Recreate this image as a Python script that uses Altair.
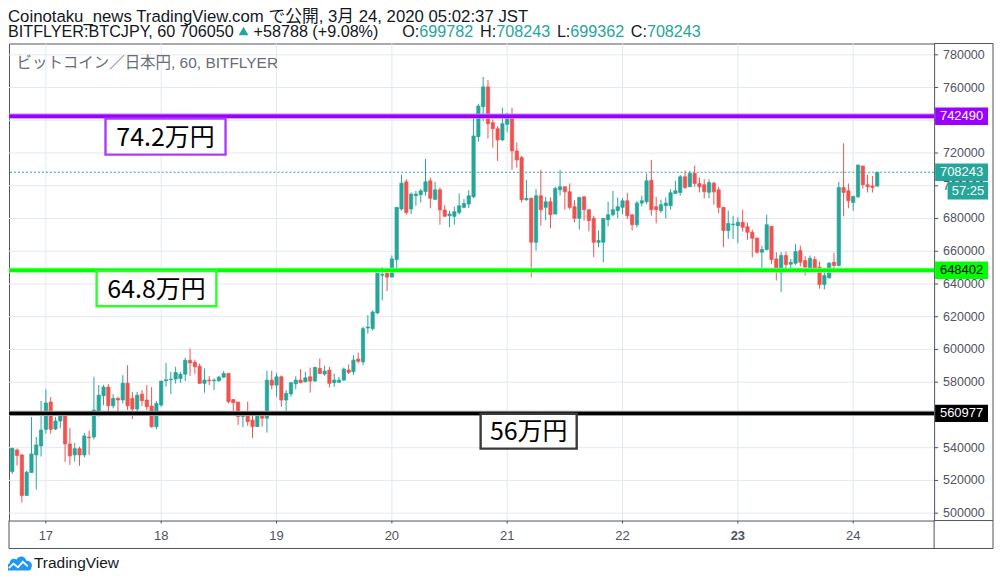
import altair as alt
import pandas as pd

# ---------------- data (hourly candles, hour 0 = 17th 00:00) ----------------
hours = list(range(-7, 174))
opens = [
    525400, 538600, 535600, 510800, 524800, 535600, 541100, 551200, 567900, 551400,
    556300, 559300, 542300, 535600, 539400, 535600, 546500, 546500, 562000, 571700,
    577000, 565600, 570100, 569100, 579400, 570100, 563600, 572700, 569100, 565400,
    552800, 566000, 580900, 581500, 581900, 582300, 584900, 593400, 592200, 589800,
    579300, 581300, 580900, 580900, 583100, 585300, 569500, 567900, 559000, 560600,
    556900, 552900, 560600, 558000, 581300, 578200, 583300, 569100, 572800, 579000,
    581300, 580300, 583300, 580700, 588400, 585000, 587400, 579700, 579900, 581300,
    587400, 586400, 594100, 592400, 613100, 612700, 622300, 645400, 646600, 644200,
    654900, 685800, 702400, 685800, 693900, 694500, 696500, 703000, 691700, 697500,
    685200, 681700, 681300, 683700, 686800, 688800, 693300, 730000, 748300, 760400,
    738500, 734900, 728000, 737500, 742600, 721300, 717200, 691500, 692300, 665500,
    693900, 686800, 690200, 682700, 697500, 699400, 696300, 687200, 680100, 693300,
    685400, 680100, 665500, 665500, 679300, 682300, 684800, 686800, 690800, 682300,
    676200, 689400, 690200, 703400, 687200, 684800, 687800, 687800, 695300, 695900,
    705500, 699400, 707500, 701400, 700600, 696000, 701600, 697500, 686800, 672600,
    676200, 675600, 677700, 675000, 671600, 668100, 659400, 661000, 675200, 655300,
    646800, 657400, 652100, 652700, 660400, 654300, 649600, 654900, 650300, 639700,
    643800, 653300, 651300, 698900, 696900, 689800, 693300, 712100, 700600, 699900, 699782,
]
highs = [
    540000, 539400, 536200, 525800, 558700, 546500, 568500, 575600, 570900, 558700,
    562000, 562000, 552000, 542900, 540600, 549000, 550400, 583300, 578200, 578400,
    578800, 572700, 571100, 584300, 590400, 574100, 574100, 575200, 578200, 577000,
    568500, 580700, 591800, 586300, 589400, 586300, 595000, 600500, 593800, 591400,
    588400, 583700, 582300, 583900, 586800, 585700, 569500, 567900, 562000, 568100,
    559600, 561400, 561400, 587000, 587000, 585700, 584100, 575200, 580100, 583700,
    588000, 586400, 589000, 589400, 594500, 590000, 589400, 585300, 583300, 589000,
    590800, 596500, 598100, 613700, 620900, 623900, 646600, 650300, 649300, 657400,
    686800, 706700, 704000, 695900, 696900, 698000, 716400, 705000, 702400, 698900,
    688200, 684800, 687200, 695300, 691900, 697300, 742600, 750100, 766500, 764500,
    740600, 736500, 747700, 744600, 747700, 726400, 718200, 703600, 692900, 698000,
    709700, 693300, 692900, 699400, 709700, 699400, 701400, 691200, 693300, 693300,
    685400, 681700, 672600, 680100, 690200, 696900, 692900, 692500, 695700, 682300,
    690800, 693900, 707500, 715800, 693300, 691500, 692900, 697900, 703000, 706700,
    709100, 709100, 712200, 705000, 704000, 704000, 702400, 699400, 686800, 684800,
    681700, 680700, 685400, 677500, 673200, 668100, 663400, 682300, 675200, 659400,
    659400, 659800, 655300, 664300, 663400, 657000, 657400, 656900, 653700, 648600,
    653300, 659000, 702400, 725900, 701400, 693900, 712700, 712100, 706700, 706000, 708243,
]
lows = [
    524000, 529100, 506500, 510800, 524800, 514500, 534600, 548600, 548600, 550800,
    551800, 531300, 529500, 531500, 528900, 534000, 535600, 545100, 558900, 566000,
    562000, 564000, 562200, 567000, 563000, 557500, 562400, 565400, 563000, 552200,
    551200, 565000, 577200, 572700, 579200, 579600, 580700, 583900, 585100, 579000,
    573600, 578200, 575200, 580300, 582700, 567100, 559600, 553900, 552500, 553300,
    545800, 552900, 552900, 549200, 575600, 571100, 565000, 562600, 571100, 575600,
    579300, 579900, 573600, 580300, 584900, 583900, 576800, 577200, 579700, 580900,
    585000, 584300, 591400, 590400, 609700, 611700, 621500, 630000, 635700, 644200,
    648800, 684800, 682300, 682700, 687800, 689800, 693900, 686200, 691300, 676200,
    681300, 674600, 676200, 682300, 686200, 686400, 692500, 726900, 739500, 728800,
    723300, 715200, 727400, 732800, 709700, 711100, 689800, 690800, 644200, 660400,
    675600, 679100, 674000, 682700, 694000, 685400, 685400, 677700, 673200, 678700,
    672200, 656400, 662400, 653300, 675200, 681300, 680100, 682700, 679700, 672600,
    674600, 687400, 688800, 681700, 677100, 683300, 680100, 685400, 694900, 693900,
    698000, 699400, 699400, 695900, 692300, 692300, 688400, 683300, 662400, 667500,
    667500, 664900, 672000, 667000, 656300, 658400, 648800, 660400, 652300, 642100,
    635000, 649200, 647200, 651700, 650700, 645200, 649600, 648600, 637100, 636700,
    643200, 648600, 650700, 681300, 686200, 684800, 692500, 698300, 695900, 695900, 699362,
]
closes = [
    539600, 535200, 510800, 525000, 536200, 541700, 550800, 567300, 551200, 556300,
    559500, 542300, 535000, 539400, 535600, 547200, 546100, 563000, 572100, 577000,
    565600, 570100, 569100, 579400, 565600, 563600, 572100, 568700, 565000, 552800,
    567000, 580700, 581500, 581900, 585900, 584900, 593400, 591800, 589400, 579300,
    581300, 580900, 581300, 583100, 585300, 568100, 567500, 559000, 561000, 555900,
    552900, 560600, 558000, 581300, 578200, 583300, 569100, 573200, 579700, 581300,
    579700, 582700, 580700, 589000, 585300, 586800, 579300, 581300, 581300, 588000,
    586000, 593500, 592800, 612700, 613700, 622900, 646600, 645800, 644200, 655300,
    686800, 701600, 683700, 694900, 694900, 696900, 702400, 692300, 697500, 685200,
    681300, 682700, 684100, 687800, 689200, 693900, 730400, 748700, 760400, 737900,
    734900, 728000, 737900, 742600, 721300, 715800, 691500, 692300, 665500, 693900,
    685400, 690200, 682300, 698300, 699400, 696300, 686800, 680100, 692900, 685400,
    678700, 665500, 666500, 680100, 682300, 685400, 687200, 690800, 681700, 676200,
    689400, 690800, 703000, 685400, 685400, 688400, 689400, 695700, 696900, 705500,
    699000, 707700, 701400, 699400, 696300, 702000, 696300, 686800, 672600, 677000,
    676600, 677700, 674600, 671600, 667900, 659400, 661000, 676200, 654900, 647200,
    657400, 651900, 653300, 659800, 653300, 650300, 655700, 649600, 639700, 645200,
    652700, 651300, 698900, 695900, 690800, 693500, 712700, 700600, 699400, 699000, 708243,
]

day_ticks = [0, 24, 48, 72, 96, 120, 144, 168]
day_labels = ["17", "18", "19", "20", "21", "22", "23", "24"]
day_bold = [False, False, False, False, False, False, True, False]
price_ticks = list(range(500000, 780001, 20000))
# tick labels that the price badges hide completely in the reference
hidden_price_labels = [740000, 560000]
label_ticks = [v for v in price_ticks if v not in hidden_price_labels]
price_labels = [str(v) for v in label_ticks]

# horizontal levels drawn on the chart
level_prices = [742490, 648402, 560977]
level_core = ["#9b00ff", "#00ff00", "#000000"]
level_halo = ["#c884ff", "#8cff8c", "#9a9a9a"]
level_badge_text = ["#ffffff", "#000000", "#ffffff"]
last_price = closes[-1]
timer_text = "57:25"

# annotation boxes (hour / price)
box_labels = ["74.2万円", "64.8万円", "56万円"]
box_h1 = [12.41, 10.56, 90.47]
box_h2 = [37.39, 35.48, 110.46]
box_p1 = [741000, 647910, 560740]
box_p2 = [719050, 626390, 539400]
box_stroke = ["#a93cff", "#2cff2c", "#3a3a3a"]

header1 = "Coinotaku_news TradingView.com で公開, 3月 24, 2020 05:02:37 JST"
header2_parts = ["BITFLYER:BTCJPY, 60 706050", "+58788 (+9.08%)", "O:", "699782",
                 "H:", "708243", "L:", "699362", "C:", "708243"]
header2_x = [8, 254, 403, 420.1, 481, 497.2, 558, 571.5, 632, 648.2]   # page x
header2_col = ["#131722", "#131722", "#131722", "#26a69a", "#131722", "#26a69a",
               "#131722", "#26a69a", "#131722", "#26a69a"]
legend_text = "ビットコイン／日本円, 60, BITFLYER"

# ---------------- geometry ----------------
W, H = 927, 478
PX0, PY0 = 9, 43            # page position of plot origin
XDOM = [-6.635, 183.8]
YDOM = [495500, 786900]
PPP = (YDOM[1] - YDOM[0]) / H   # price units per pixel
TEAL, RED = "#26a69a", "#ef5350"
FRAME = "#50535e"
GRID = "#e1e9ef"
NARROW = "Liberation Sans Narrow, Liberation Sans, Arial"
SANS = "Liberation Sans, Arial, Noto Sans CJK JP"

df = pd.DataFrame({"h": hours, "o": opens, "hi": highs, "lo": lows, "c": closes})
df["dir"] = ["up" if c >= o else "down" for o, c in zip(df.o, df.c)]

xs = alt.Scale(domain=XDOM, nice=False, zero=False)
ys = alt.Scale(domain=YDOM, nice=False, zero=False)
dir_scale = alt.Scale(domain=["up", "down"], range=[TEAL, RED])

one = pd.DataFrame({"k": [0]})


def px(v):
    return v - PX0


def py(v):
    return v - PY0


# ---- grid, ticks and tick labels ----
xt = pd.DataFrame({"h": day_ticks, "lab": day_labels, "bold": day_bold})
yt = pd.DataFrame({"p": price_ticks})
ytl = pd.DataFrame({"p": label_ticks, "lab": price_labels})

xgrid = alt.Chart(xt).mark_rule(color=GRID, strokeWidth=1).encode(
    x=alt.X("h:Q", scale=xs, axis=None), y=alt.value(0), y2=alt.value(H))
ygrid = alt.Chart(yt).mark_rule(color=GRID, strokeWidth=1).encode(
    y=alt.Y("p:Q", scale=ys, axis=None), x=alt.value(0), x2=alt.value(W))
xticks = alt.Chart(xt).mark_rule(color=FRAME, strokeWidth=1).encode(
    x=alt.X("h:Q", scale=xs, axis=None), y=alt.value(H), y2=alt.value(H + 3))
yticks = alt.Chart(yt).mark_rule(color=FRAME, strokeWidth=1).encode(
    y=alt.Y("p:Q", scale=ys, axis=None), x=alt.value(W), x2=alt.value(W + 4))
xlab_n = alt.Chart(xt).transform_filter("!datum.bold").mark_text(
    font=NARROW, fontSize=13, color=FRAME, align="center", baseline="middle").encode(
    x=alt.X("h:Q", scale=xs, axis=None), y=alt.value(py(536.5)), text="lab:N")
xlab_b = alt.Chart(xt).transform_filter("datum.bold").mark_text(
    font=NARROW, fontSize=13, fontWeight="bold", color=FRAME, align="center",
    baseline="middle").encode(
    x=alt.X("h:Q", scale=xs, axis=None), y=alt.value(py(536.5)), text="lab:N")
ylab = alt.Chart(ytl).mark_text(font=NARROW, fontSize=12.5, color=FRAME, align="left",
                                baseline="middle").encode(
    y=alt.Y("p:Q", scale=ys, axis=None), x=alt.value(W + 9), text="lab:N")

# ---- candles ----
base = alt.Chart(df)
wicks = base.mark_rule(strokeWidth=1, clip=True).encode(
    x=alt.X("h:Q", scale=xs, axis=None),
    y=alt.Y("lo:Q", scale=ys, axis=None),
    y2="hi:Q",
    color=alt.Color("dir:N", scale=dir_scale, legend=None),
)
bodies = base.mark_bar(size=3.3, strokeWidth=0.7, clip=True).encode(
    x=alt.X("h:Q", scale=xs, axis=None),
    y=alt.Y("o:Q", scale=ys, axis=None),
    y2="c:Q",
    color=alt.Color("dir:N", scale=dir_scale, legend=None),
    stroke=alt.Stroke("dir:N", scale=dir_scale, legend=None),
)

last_df = pd.DataFrame({"p": [last_price]})
dashed = alt.Chart(last_df).mark_rule(color=TEAL, strokeWidth=1, strokeDash=[2, 2]).encode(
    y=alt.Y("p:Q", scale=ys, axis=None))

lv = pd.DataFrame({"p": level_prices, "core": level_core, "halo": level_halo})
halo = alt.Chart(lv).mark_rule(strokeWidth=5.2).encode(
    y=alt.Y("p:Q", scale=ys, axis=None), color=alt.Color("halo:N", scale=None))
core = alt.Chart(lv).mark_rule(strokeWidth=3.4).encode(
    y=alt.Y("p:Q", scale=ys, axis=None), color=alt.Color("core:N", scale=None))

bx = pd.DataFrame({"lab": box_labels, "h1": box_h1, "h2": box_h2, "p1": box_p1,
                   "p2": box_p2, "sc": box_stroke})
bx["hm"] = (bx.h1 + bx.h2) / 2
bx["pm"] = (bx.p1 + bx.p2) / 2
boxes = alt.Chart(bx).mark_rect(fill="white", strokeWidth=2.4).encode(
    x=alt.X("h1:Q", scale=xs, axis=None), x2="h2:Q",
    y=alt.Y("p1:Q", scale=ys, axis=None), y2="p2:Q",
    stroke=alt.Stroke("sc:N", scale=None))
box_text = alt.Chart(bx).mark_text(font="Noto Sans CJK JP", fontSize=25, color="#000000",
                                   baseline="middle", align="center", dy=1).encode(
    x=alt.X("hm:Q", scale=xs, axis=None), y=alt.Y("pm:Q", scale=ys, axis=None), text="lab:N")

# price badges on the right axis
bd = pd.DataFrame({
    "p": level_prices + [last_price],
    "fill": level_core + [TEAL],
    "tc": level_badge_text + ["#ffffff"],
    "lab": [str(v) for v in level_prices] + [str(last_price)],
})
bd["top"] = bd.p + 8.7 * PPP
bd["bot"] = bd.p - 8.7 * PPP
badges = alt.Chart(bd).mark_rect().encode(
    x=alt.value(W + 1), x2=alt.value(W + 54),
    y=alt.Y("top:Q", scale=ys, axis=None), y2="bot:Q",
    fill=alt.Fill("fill:N", scale=None))
badge_text = alt.Chart(bd).mark_text(font=NARROW, fontSize=13, align="center", baseline="middle").encode(
    x=alt.value(W + 27.5), y=alt.Y("p:Q", scale=ys, axis=None), text="lab:N",
    color=alt.Color("tc:N", scale=None))
tm = pd.DataFrame({"lab": [timer_text], "top": [last_price - 9.7 * PPP],
                   "bot": [last_price - 27.3 * PPP], "mid": [last_price - 18.5 * PPP]})
timer = alt.Chart(tm).mark_rect(fill=TEAL).encode(
    x=alt.value(W + 13.5), x2=alt.value(W + 54),
    y=alt.Y("top:Q", scale=ys, axis=None), y2="bot:Q")
timer_txt = alt.Chart(tm).mark_text(font=NARROW, fontSize=13, color="#ffffff",
                                    align="center", baseline="middle").encode(
    x=alt.value(W + 34), y=alt.Y("mid:Q", scale=ys, axis=None), text="lab:N")

# outer frame, given in page pixels
seg_page = [
    (936, 43, 995, 43), (995, 43, 995, 549), (9, 549, 995, 549),
    (9, 521, 9, 549), (936, 521, 995, 521), (936, 521, 936, 549),
]
frames = [
    alt.Chart(one).mark_rule(color=FRAME, strokeWidth=1).encode(
        x=alt.value(px(a)), y=alt.value(py(b)), x2=alt.value(px(c)), y2=alt.value(py(d)))
    for a, b, c, d in seg_page
]


def ptext(txt, x, y, font, size, color, align="left", baseline="alphabetic"):
    return alt.Chart(one).mark_text(text=txt, font=font, fontSize=size, color=color,
                                    align=align, baseline=baseline).encode(
        x=alt.value(px(x)), y=alt.value(py(y)))


texts = [ptext(header1, 8, 21.0, SANS, 16.8, "#131722")]
for t, xv, cv in zip(header2_parts, header2_x, header2_col):
    texts.append(ptext(t, xv, 36.6, SANS, 16.2, cv))
texts.append(ptext(legend_text, 16.5, 67.5, "Liberation Sans, Noto Sans CJK JP", 15.5, "#6a6d78"))
texts.append(ptext("TradingView", 34, 569, "Liberation Sans, Arial", 15.5, "#131722"))

tri = alt.Chart(one).mark_point(shape="triangle-up", filled=True, color=TEAL, size=95,
                                opacity=1).encode(x=alt.value(px(244)), y=alt.value(py(30.5)))

cloud_path = ("M-0.8,0.55 C-1.08,0.55 -1.08,0.02 -0.72,0.0 C-0.72,-0.32 -0.42,-0.46 -0.18,-0.3 "
              "C-0.02,-0.62 0.46,-0.62 0.56,-0.2 C0.92,-0.24 1.08,0.12 0.96,0.3 "
              "C0.96,0.5 0.86,0.55 0.76,0.55 Z")
zig_path = "M-0.78,0.36 L-0.42,0.02 L-0.08,0.3 L0.3,-0.12 L0.68,0.22"
logo_cloud = alt.Chart(one).mark_point(shape=cloud_path, filled=True, color="#2196f3",
                                       size=676, opacity=1).encode(
    x=alt.value(px(19)), y=alt.value(py(564)))
logo_zig = alt.Chart(one).mark_point(shape=zig_path, filled=False, stroke="#ffffff",
                                     strokeWidth=1.8, size=676, opacity=1).encode(
    x=alt.value(px(19)), y=alt.value(py(564)))

chart = alt.layer(
    xgrid, ygrid, xticks, yticks, xlab_n, xlab_b, ylab,
    wicks, bodies, dashed, halo, core, boxes, box_text, badges, badge_text, timer, timer_txt,
    *frames, *texts, tri, logo_cloud, logo_zig,
).properties(
    width=W, height=H,
    autosize=alt.AutoSizeParams(type="none"),
    padding={"left": 1, "top": 35, "right": 60, "bottom": 51},
    background="#ffffff",
).configure_view(stroke=FRAME, strokeWidth=1)

chart.save("out.html", embed_options={"renderer": "svg", "actions": False})
